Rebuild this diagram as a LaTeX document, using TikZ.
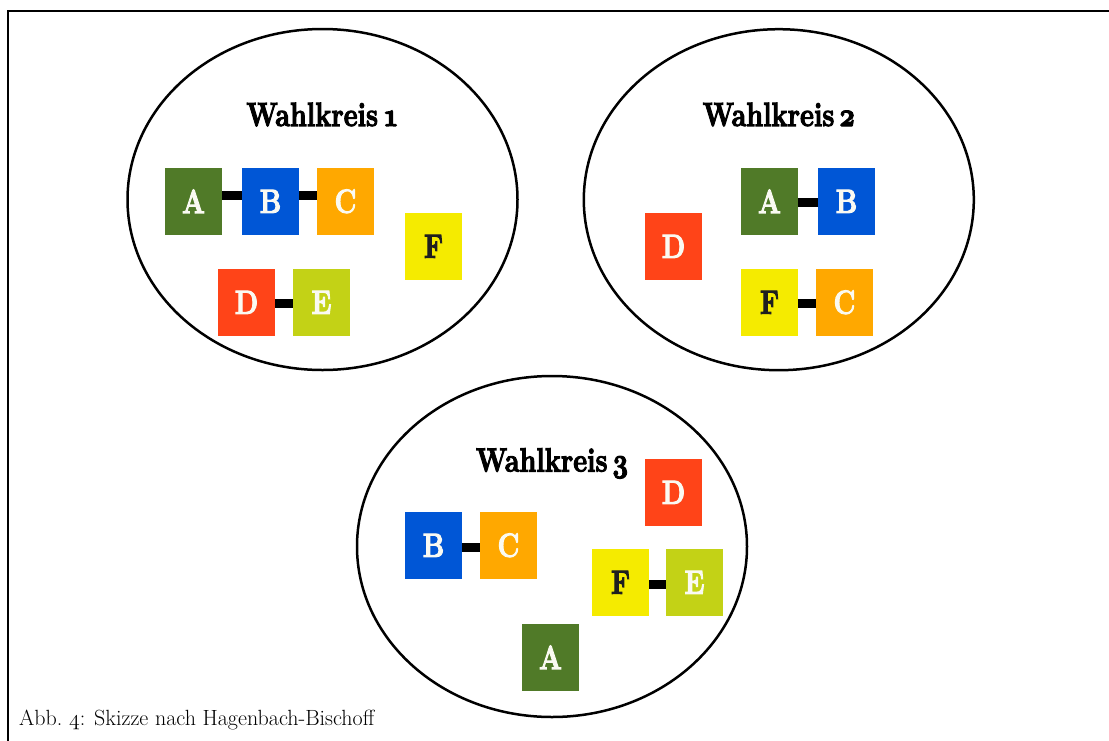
\documentclass[tikz,border=0pt]{standalone}
\usepackage{fix-cm}
\usepackage{graphicx}
\usetikzlibrary{shapes.geometric}
\definecolor{pgreen}{RGB}{80,122,40}
\definecolor{pblue}{RGB}{0,86,214}
\definecolor{porange}{RGB}{255,168,0}
\definecolor{pred}{RGB}{255,68,24}
\definecolor{plime}{RGB}{195,210,22}
\definecolor{pyellow}{RGB}{245,235,0}
\definecolor{lettercol}{RGB}{250,250,242}
\newcommand{\heavy}[1]{\special{pdf:literal direct 2 Tr 0.9 w}#1\special{pdf:literal direct 0 Tr}}
\newcommand{\tallbf}[1]{\scalebox{1}[1.24]{\fontsize{27}{30}\bfseries\selectfont\heavy{#1}}}
\newcommand{\osbold}[1]{{\fontsize{27}{30}\usefont{OML}{cmm}{b}{it}#1}}
\newcommand{\osreg}[1]{{\usefont{OML}{cmm}{m}{it}#1}}
\tikzset{
  party/.style={rectangle, inner sep=0pt, minimum width=57pt, minimum height=67pt, text=lettercol},
  pA/.style={party, fill=pgreen},
  pB/.style={party, fill=pblue},
  pC/.style={party, fill=porange},
  pD/.style={party, fill=pred},
  pE/.style={party, fill=plime},
  pF/.style={party, fill=pyellow, text={black!88}},
  kreis/.style={ellipse, draw=black, line width=2.5pt, inner sep=0pt, outer sep=0pt, minimum width=390pt, minimum height=341pt},
  titel/.style={anchor=base, inner sep=0pt},
  link/.style={line width=9pt, draw=black},
}
\begin{document}
\begin{tikzpicture}[x=1pt,y=-1pt]
\useasboundingbox (0,0) rectangle (1109,740);
% frame
\draw[line width=2.5pt] (8,742) -- (8,11) -- (1111,11);
% ellipses
\node[kreis] (k1) at (322.5,199.5) {};
\node[kreis] (k2) at (778.8,199.7) {};
\node[kreis] (k3) at (552,546.5) {};
% titles
\node[titel] (t1) at (322.5,126) {\tallbf{Wahlkreis\kern5pt\osbold{1}}};
\node[titel] (t2) at (778.8,126) {\tallbf{Wahlkreis\kern5pt\osbold{2}}};
\node[titel] (t3) at (552,471.5) {\tallbf{Wahlkreis\kern5pt\osbold{3}}};
% Wahlkreis 1
\node[pA] (a1) at (193.5,201.3) {\tallbf{A}};
\node[pB] (b1) at (270.5,201.3) {\tallbf{B}};
\node[pC] (c1) at (345.5,201.3) {\tallbf{C}};
\node[pF] (f1) at (433.5,246.3) {\tallbf{F}};
\node[pD] (d1) at (246.5,302.3) {\tallbf{D}};
\node[pE] (e1) at (321.5,302.3) {\tallbf{E}};
\draw[link] ([yshift=6pt]a1.east) -- ([yshift=6pt]b1.west);
\draw[link] ([yshift=6pt]b1.east) -- ([yshift=6pt]c1.west);
\draw[link] ([yshift=-1.5pt]d1.east) -- ([yshift=-1.5pt]e1.west);
% Wahlkreis 2
\node[pD] (d2) at (673.5,246.3) {\tallbf{D}};
\node[pA] (a2) at (769.5,201.3) {\tallbf{A}};
\node[pB] (b2) at (846.5,201.3) {\tallbf{B}};
\node[pF] (f2) at (769.5,302.3) {\tallbf{F}};
\node[pC] (c2) at (844.5,302.3) {\tallbf{C}};
\draw[link] ([yshift=-1.5pt]a2.east) -- ([yshift=-1.5pt]b2.west);
\draw[link] ([yshift=-1.5pt]f2.east) -- ([yshift=-1.5pt]c2.west);
% Wahlkreis 3
\node[pB] (b3) at (433.5,545.3) {\tallbf{B}};
\node[pC] (c3) at (508.5,545.3) {\tallbf{C}};
\node[pD] (d3) at (673.5,492.3) {\tallbf{D}};
\node[pF] (f3) at (620.5,582.3) {\tallbf{F}};
\node[pE] (e3) at (694.5,582.3) {\tallbf{E}};
\node[pA] (a3) at (550.5,657.3) {\tallbf{A}};
\draw[link] ([yshift=-1.7pt]b3.east) -- ([yshift=-1.7pt]c3.west);
\draw[link] ([yshift=-1.7pt]f3.east) -- ([yshift=-1.7pt]e3.west);
% caption
\node[anchor=base west, inner sep=0pt, font=\fontsize{22}{26}\selectfont] (cap) at (19,725) {Abb.\ \osreg{4}: Skizze nach Hagenbach-Bischoff};
\end{tikzpicture}
\end{document}
